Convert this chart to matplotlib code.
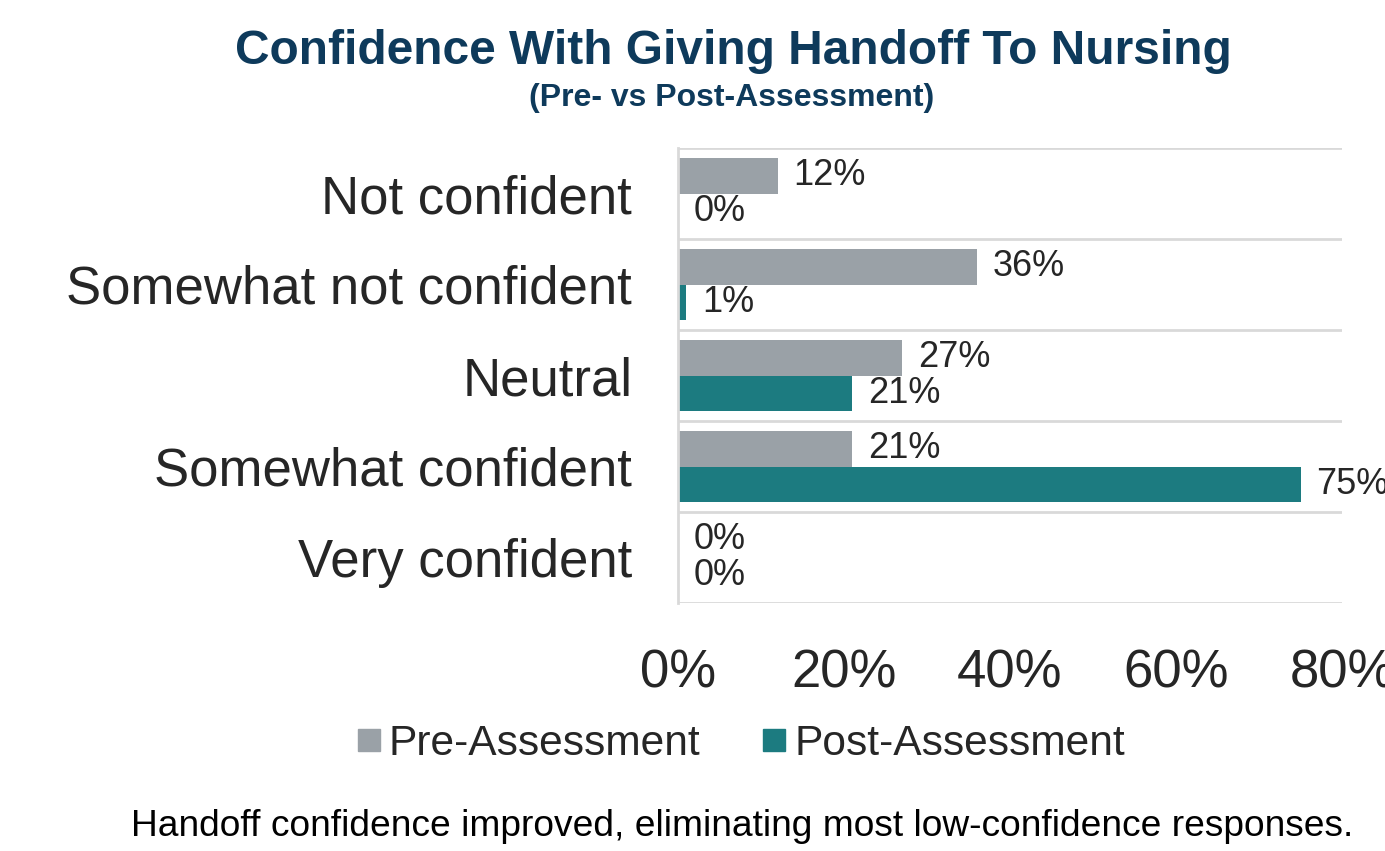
import numpy as np
import matplotlib
matplotlib.use('Agg')
import matplotlib.pyplot as plt
from matplotlib.lines import Line2D

plt.rcParams['font.family'] = ['Liberation Sans', 'DejaVu Sans']

# data
categories = ['Not confident', 'Somewhat not confident', 'Neutral',
              'Somewhat confident', 'Very confident']
pre = [12, 36, 27, 21, 0]
post = [0, 1, 21, 75, 0]
series_names = ['Pre-Assessment', 'Post-Assessment']
xticks = [0, 20, 40, 60, 80]

gray = '#9aa1a7'
teal = '#1c7b80'
txt = '#262626'
navy = '#0e3a5b'

fig = plt.figure(figsize=(13.85, 8.51), dpi=100)
ax = fig.add_axes([678 / 1385, 1 - 603 / 851, (1342 - 678) / 1385, (603 - 148) / 851])

y = np.arange(len(categories))
h = 0.385
ax.barh(y - h / 2, pre, height=h, color=gray)
ax.barh(y + h / 2, post, height=h, color=teal)

# value labels
for i in range(len(categories)):
    ax.annotate(f'{pre[i]}%', (pre[i], y[i] - h / 2), xytext=(11.5, 0),
                textcoords='offset points', va='center', ha='left',
                fontsize=26, color=txt, annotation_clip=False)
    ax.annotate(f'{post[i]}%', (post[i], y[i] + h / 2), xytext=(11.5, 0),
                textcoords='offset points', va='center', ha='left',
                fontsize=26, color=txt, annotation_clip=False)

ax.set_xlim(0, 80)
ax.set_ylim(len(categories) - 0.5, -0.5)
ax.set_xticks(xticks)
ax.set_xticklabels([f'{v}%' for v in xticks])
ax.set_yticks(y)
ax.set_yticklabels(categories)
ax.tick_params(axis='both', length=0, labelsize=38, colors=txt)
ax.tick_params(axis='x', pad=33)
ax.tick_params(axis='y', pad=33)

# horizontal lines between the groups
ax.set_yticks(np.arange(-0.5, len(categories)), minor=True)
ax.tick_params(axis='y', which='minor', length=0)
ax.grid(axis='y', which='minor', color='#d9d9d9', linewidth=2)
for gl in ax.yaxis.get_minorticklines() + ax.get_ygridlines():
    gl.set_clip_on(False)
ax.set_axisbelow(True)

for s in ['top', 'right', 'bottom']:
    ax.spines[s].set_visible(False)
ax.spines['left'].set_color('#d9d9d9')
ax.spines['left'].set_linewidth(2)

# titles
fig.text(733 / 1385, 1 - 52 / 851, 'Confidence With Giving Handoff To Nursing',
         ha='center', va='center', fontsize=34.5, fontweight='bold', color=navy)
fig.text(732 / 1385, 1 - 98 / 851, '(Pre- vs Post-Assessment)',
         ha='center', va='center', fontsize=23, fontweight='bold', color=navy)

# legend
handles = [Line2D([], [], marker='s', linestyle='none', markersize=16, color=gray),
           Line2D([], [], marker='s', linestyle='none', markersize=16, color=teal)]
fig.legend(handles, series_names, loc='center', bbox_to_anchor=(741 / 1385, 1 - 744 / 851),
           ncol=2, frameon=False, fontsize=30.6, handlelength=0.55, handletextpad=0.2,
           columnspacing=1.45, labelcolor=txt)

# caption
fig.text(742 / 1385, 1 - 826 / 851,
         'Handoff confidence improved, eliminating most low-confidence responses.',
         ha='center', va='center', fontsize=26.7, color='black')

fig.savefig('out.png', dpi=100)
